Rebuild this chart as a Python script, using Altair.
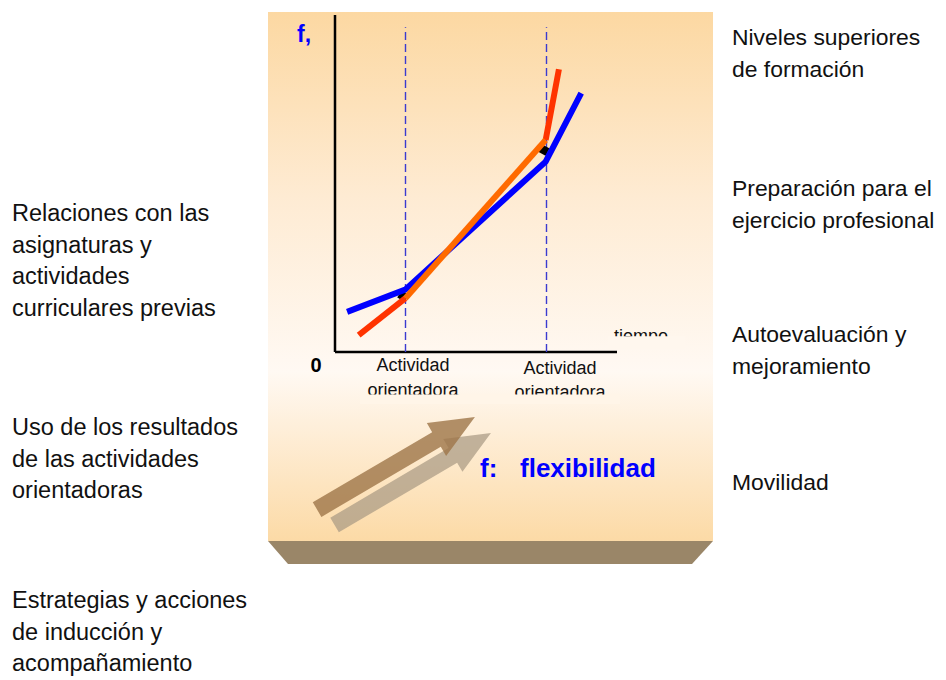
import altair as alt
import pandas as pd

# ---------------- chart values ----------------
# curves inside the small chart (time units 0..10, flexibility units 0..10)
blue_time = [0.43, 2.49, 7.47, 8.73]
blue_f = [1.19, 1.85, 5.65, 7.68]
red_start_time = [0.84, 2.49]
red_start_f = [0.50, 1.59]
orange_time = [2.49, 7.47]
orange_f = [1.59, 6.29]
red_end_time = [7.47, 7.94]
red_end_f = [6.29, 8.39]
marker_time = [2.41, 7.41]
marker_f = [1.66, 5.99]
activity_time = [2.5, 7.5]
activity_top = 9.64
axis_max = 10

activity_line1 = ["Actividad", "Actividad"]
activity_line2 = ["orientadora", "orientadora"]
axis_y_label = "f,"
axis_zero_label = "0"
axis_x_label = "tiempo"
legend_key = "f:"
legend_text = "flexibilidad"

left_blocks = [
    ["Relaciones con las", "asignaturas y", "actividades", "curriculares previas"],
    ["Uso de los resultados", "de las actividades", "orientadoras"],
    ["Estrategias y acciones", "de inducción y", "acompañamiento"],
]
right_blocks = [
    ["Niveles superiores", "de formación"],
    ["Preparación para el", "ejercicio profesional"],
    ["Autoevaluación y", "mejoramiento"],
    ["Movilidad"],
]

# ---------------- layout (page pixel frame) ----------------
W, H = 930, 672
M = 8
FONT = "Liberation Sans"
LINE_GAP = 31.5
LEFT_SIZE = 23.5
RIGHT_SIZE = 22.9
left_x = 12
left_baselines = [221, 435, 608]
right_x = 732
right_baselines = [45, 196, 342, 490]

px = alt.Scale(domain=[M, M + W], range=[0, W], nice=False, zero=False)
py = alt.Scale(domain=[M, M + H], range=[0, H], nice=False, zero=False)
ix = alt.Scale(domain=[0, axis_max], range=[335 - M, 617 - M], nice=False, zero=False)
iy = alt.Scale(domain=[0, axis_max], range=[352 - M, 15 - M], nice=False, zero=False)


def PX(f):
    return alt.X(f, type="quantitative", scale=px, axis=None)


def PY(f):
    return alt.Y(f, type="quantitative", scale=py, axis=None)


def IX(f):
    return alt.X(f, type="quantitative", scale=ix, axis=None)


def IY(f):
    return alt.Y(f, type="quantitative", scale=iy, axis=None)


# ---------------- background pieces ----------------
panel = alt.Chart(pd.DataFrame({"x": [268], "x2": [713], "y": [12], "y2": [541]})).mark_rect(
    color={
        "gradient": "linear",
        "x1": 0, "x2": 0, "y1": 0, "y2": 1,
        "stops": [
            {"offset": 0, "color": "#FCD8A2"},
            {"offset": 0.35, "color": "#FEEBD3"},
            {"offset": 0.68, "color": "#FFF9F3"},
            {"offset": 1, "color": "#FCDAA6"},
        ],
    }
).encode(x=PX("x"), x2=alt.X2("x2"), y=PY("y"), y2=alt.Y2("y2"))

pedestal = alt.Chart(
    pd.DataFrame({"x": [268, 288, 692, 713], "y": [541, 541, 541, 541], "y2": [541, 564, 564, 541]})
).mark_area(color="#9A8668", opacity=1).encode(x=PX("x"), y=PY("y"), y2=alt.Y2("y2"))

ARROW = "M-1,-0.093 L0.513,-0.093 L0.513,-0.208 L1,0 L0.513,0.208 L0.513,0.093 L-1,0.093 Z"
arrow_light = alt.Chart(pd.DataFrame({"x": [412.75], "y": [479]})).mark_point(
    shape=ARROW, filled=True, size=32942, angle=329.5, color="#A99A84", opacity=0.72, strokeWidth=0
).encode(x=PX("x"), y=PY("y"))
arrow_dark = alt.Chart(pd.DataFrame({"x": [396], "y": [463.25]})).mark_point(
    shape=ARROW, filled=True, size=33489, angle=329.6, color="#9E7548", opacity=0.8, strokeWidth=0
).encode(x=PX("x"), y=PY("y"))

back = alt.layer(panel, pedestal, arrow_light, arrow_dark)

# ---------------- inner chart ----------------
axes_v = alt.Chart(pd.DataFrame({"t": [0], "f": [0], "f2": [axis_max]})).mark_rule(
    color="black", strokeWidth=2.5
).encode(x=IX("t"), y=IY("f"), y2=alt.Y2("f2"))
axes_h = alt.Chart(pd.DataFrame({"t": [0], "t2": [axis_max], "f": [0]})).mark_rule(
    color="black", strokeWidth=2.5
).encode(x=IX("t"), x2=alt.X2("t2"), y=IY("f"))
dashed = alt.Chart(pd.DataFrame({"t": activity_time, "f": [0, 0], "f2": [activity_top] * 2})).mark_rule(
    color="#3B3BD0", strokeWidth=1.4, strokeDash=[8, 4]
).encode(x=IX("t"), y=IY("f"), y2=alt.Y2("f2"))
markers = alt.Chart(pd.DataFrame({"t": marker_time, "f": marker_f})).mark_square(
    size=70, angle=30, color="black", opacity=1
).encode(x=IX("t"), y=IY("f"))


def seg(ts, fs, color):
    df = pd.DataFrame({"t": ts, "f": fs, "i": list(range(len(ts)))})
    return alt.Chart(df).mark_line(
        color=color, strokeWidth=6, strokeCap="butt", strokeJoin="miter"
    ).encode(x=IX("t"), y=IY("f"), order="i:Q")


inner = alt.layer(
    axes_v, axes_h, dashed, markers,
    seg(blue_time, blue_f, "#0000FF"),
    seg(red_start_time, red_start_f, "#FF3300"),
    seg(red_end_time, red_end_f, "#FF3300"),
    seg(orange_time, orange_f, "#FF6A00"),
)

# ---------------- texts ----------------
def text_rows(blocks, x, baselines):
    rows = []
    for block, b in zip(blocks, baselines):
        for k, line in enumerate(block):
            rows.append({"text": line, "x": x, "y": b + k * LINE_GAP})
    return pd.DataFrame(rows)


def text_layer(df, size, color="#111111", bold=False, align="left"):
    return alt.Chart(df).mark_text(
        align=align, baseline="alphabetic", font=FONT, fontSize=size,
        fontWeight="bold" if bold else "normal", color=color
    ).encode(x=PX("x"), y=PY("y"), text="text:N")


left_txt = text_layer(text_rows(left_blocks, left_x, left_baselines), LEFT_SIZE)
right_txt = text_layer(text_rows(right_blocks, right_x, right_baselines), RIGHT_SIZE)

act_df = pd.DataFrame({
    "text": activity_line1 + activity_line2,
    "x": [413, 560, 413, 560],
    "y": [371, 374, 395.5, 397.5],
})
act_txt = text_layer(act_df, 18, align="center")
tiempo_txt = text_layer(pd.DataFrame({"text": [axis_x_label], "x": [614], "y": [342]}), 18)
fy_txt = text_layer(pd.DataFrame({"text": [axis_y_label], "x": [297], "y": [42]}), 23, color="#0000FF", bold=True)
zero_txt = text_layer(pd.DataFrame({"text": [axis_zero_label], "x": [310.5], "y": [372]}), 20, color="#000000", bold=True)
legend_txt = text_layer(
    pd.DataFrame({"text": [legend_key, legend_text], "x": [480, 520], "y": [477, 477]}),
    26, color="#0000FF", bold=True,
)

covers = alt.Chart(pd.DataFrame({
    "x": [360, 608], "x2": [620, 685], "y": [394.5, 336.3], "y2": [404, 349],
    "c": ["#FFF5E8", "#FFF7EE"],
})).mark_rect(opacity=1).encode(
    x=PX("x"), x2=alt.X2("x2"), y=PY("y"), y2=alt.Y2("y2"), color=alt.Color("c:N", scale=None)
)

front = alt.layer(left_txt, right_txt, act_txt, tiempo_txt, covers, fy_txt, zero_txt, legend_txt)

chart = alt.layer(back, inner, front).resolve_scale(x="independent", y="independent").properties(
    width=W, height=H, padding=0, autosize="none", background="white"
).configure_view(strokeWidth=0)

chart.save("out.html", embed_options={"renderer": "svg", "actions": False})
